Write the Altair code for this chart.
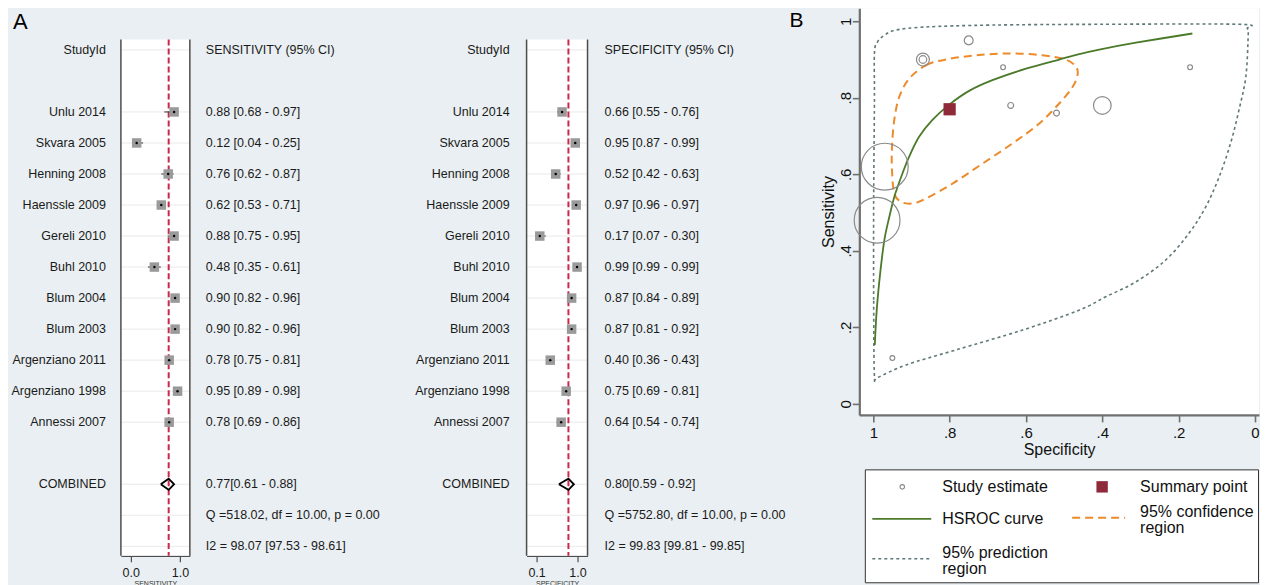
import altair as alt
import pandas as pd

# ---------------- data ----------------
studies = ["Unlu 2014", "Skvara 2005", "Henning 2008", "Haenssle 2009", "Gereli 2010",
           "Buhl 2010", "Blum 2004", "Blum 2003", "Argenziano 2011", "Argenziano 1998",
           "Annessi 2007"]
sens = [0.88, 0.12, 0.76, 0.62, 0.88, 0.48, 0.90, 0.90, 0.78, 0.95, 0.78]
sens_lo = [0.68, 0.04, 0.62, 0.53, 0.75, 0.35, 0.82, 0.82, 0.75, 0.89, 0.69]
sens_hi = [0.97, 0.25, 0.87, 0.71, 0.95, 0.61, 0.96, 0.96, 0.81, 0.98, 0.86]
spec = [0.66, 0.95, 0.52, 0.97, 0.17, 0.99, 0.87, 0.87, 0.40, 0.75, 0.64]
spec_lo = [0.55, 0.87, 0.42, 0.96, 0.07, 0.99, 0.84, 0.81, 0.36, 0.69, 0.54]
spec_hi = [0.76, 0.99, 0.63, 0.97, 0.30, 0.99, 0.89, 0.92, 0.43, 0.81, 0.74]
# relative study weight shown as bubble area in the SROC plot
weight = [23, 23, 35, 2200, 23, 2100, 168, 58, 314, 79, 35]

sens_pooled = [0.77, 0.61, 0.88]
spec_pooled = [0.80, 0.59, 0.92]
sens_het = ["Q =518.02, df = 10.00, p =  0.00", "I2 = 98.07 [97.53 - 98.61]"]
spec_het = ["Q =5752.80, df = 10.00, p =  0.00", "I2 = 99.83 [99.81 - 99.85]"]

hsroc_spec = [0.996, 0.991, 0.982, 0.971, 0.958, 0.945, 0.927, 0.906, 0.880, 0.845,
              0.801, 0.749, 0.688, 0.600, 0.513, 0.461, 0.408, 0.312, 0.164]
hsroc_sens = [0.154, 0.245, 0.341, 0.428, 0.489, 0.541, 0.593, 0.646, 0.698, 0.742,
              0.782, 0.818, 0.846, 0.876, 0.900, 0.914, 0.926, 0.944, 0.968]
conf_spec = [0.906, 0.862, 0.810, 0.731, 0.644, 0.557, 0.496, 0.469, 0.465, 0.478,
             0.513, 0.565, 0.635, 0.714, 0.792, 0.862, 0.897, 0.927, 0.945, 0.951,
             0.951, 0.945, 0.932]
conf_sens = [0.850, 0.885, 0.900, 0.911, 0.916, 0.911, 0.900, 0.881, 0.859, 0.828,
             0.785, 0.733, 0.681, 0.628, 0.576, 0.537, 0.524, 0.528, 0.550, 0.611,
             0.672, 0.742, 0.802]
pred_spec = [0.997, 0.999, 0.999, 0.997, 0.997, 0.989, 0.971, 0.941, 0.862, 0.688,
             0.408, 0.042, 0.020, 0.018, 0.024, 0.042, 0.064, 0.094, 0.129, 0.173,
             0.234, 0.312, 0.391, 0.461, 0.609, 0.784, 0.914, 0.989]
pred_sens = [0.071, 0.272, 0.533, 0.794, 0.916, 0.946, 0.963, 0.977, 0.985, 0.990,
             0.992, 0.992, 0.981, 0.959, 0.855, 0.768, 0.681, 0.593, 0.515, 0.446,
             0.376, 0.319, 0.280, 0.245, 0.193, 0.141, 0.102, 0.069]
summary_point = [0.80, 0.77]  # specificity, sensitivity

axis_ticks_B = [0, 0.2, 0.4, 0.6, 0.8, 1]
legend_labels = ["Study estimate", "Summary point", "HSROC curve",
                 ["95% confidence", "region"], ["95% prediction", "region"]]

# ---------------- layout constants ----------------
FONT = "Liberation Sans"
TXT = "#1a1a1a"
BG = "#E9EFF2"
H = 548
ROW_DOMAIN = [-1.343, 16.306]
BOX_TOP = 31.3
FS = 12.5

ysc = alt.Scale(domain=ROW_DOMAIN, reverse=True, nice=False, zero=False)
Yrow = alt.Y("row:Q", scale=ysc, axis=None)

study_rows = list(range(2, 13))
header_row, pooled_row, q_row, i2_row = 0, 14, 15, 16
grid_rows = [header_row] + study_rows + [pooled_row, q_row, i2_row]
one = pd.DataFrame({"a": [0]})


def fmt(e, l, h):
    return f"{e:.2f} [{l:.2f} - {h:.2f}]"


def label_col(width, xpos, extra=()):
    df = pd.DataFrame({"row": [header_row] + study_rows + [pooled_row],
                       "t": ["StudyId"] + studies + ["COMBINED"]})
    base = alt.Chart(df).mark_text(align="right", baseline="middle", fontSize=FS,
                                   color=TXT).encode(x=alt.value(xpos), y=Yrow, text="t:N")
    return alt.layer(base, *extra).properties(width=width, height=H)


def value_col(width, xpos, est, lo, hi, pooled, header, het, extra=()):
    texts = ([header] + [fmt(*v) for v in zip(est, lo, hi)]
             + [f"{pooled[0]:.2f}[{pooled[1]:.2f} - {pooled[2]:.2f}]"] + het)
    rows = [header_row] + study_rows + [pooled_row, q_row, i2_row]
    df = pd.DataFrame({"row": rows, "t": texts})
    base = alt.Chart(df).mark_text(align="left", baseline="middle", fontSize=FS,
                                   color=TXT).encode(x=alt.value(xpos), y=Yrow, text="t:N")
    return alt.layer(base, *extra).properties(width=width, height=H)


def forest(est, lo, hi, pooled, domain, ticks, title, width):
    xsc = alt.Scale(domain=domain, nice=False, zero=False)
    ax = alt.Axis(values=ticks, format=".1f", title=title, grid=False,
                  domainColor="#4d4d4d", domainWidth=1.5, tickColor="#4d4d4d",
                  tickWidth=1.2, tickSize=6, labelFontSize=FS, labelColor=TXT,
                  labelPadding=5, labelFlush=False, titleFontSize=7,
                  titleFontWeight="normal", titleColor="#333", titlePadding=0)

    def X(f):
        return alt.X(f, scale=xsc, axis=ax)

    df = pd.DataFrame({"row": study_rows, "est": est, "lo": lo, "hi": hi})
    pdf = pd.DataFrame({"est": [pooled[0]]})
    h = 0.18
    ddf = pd.DataFrame({"k": [0, 1, 2, 3, 4],
                        "dx": [pooled[1], pooled[0], pooled[2], pooled[0], pooled[1]],
                        "dy": [pooled_row, pooled_row - h, pooled_row, pooled_row + h, pooled_row]})
    gdf = pd.DataFrame({"row": grid_rows})
    box = alt.Chart(one).mark_rect(color="white").encode(
        x=alt.value(0), x2=alt.value(width), y=alt.value(BOX_TOP), y2=alt.value(H))
    grid = alt.Chart(gdf).mark_rule(color="#e9e9e9", strokeWidth=1).encode(y=Yrow)
    ref = alt.Chart(pdf).mark_rule(color="#c8294f", strokeWidth=2, strokeDash=[6, 3]).encode(
        x=X("est:Q"), y=alt.value(BOX_TOP), y2=alt.value(H))
    ci = alt.Chart(df).mark_rule(color="#333", strokeWidth=1).encode(
        x=X("lo:Q"), x2="hi:Q", y=Yrow)
    sq = alt.Chart(df).mark_square(color="#9a9a9a", size=90, opacity=1).encode(
        x=X("est:Q"), y=Yrow)
    dot = alt.Chart(df).mark_circle(color="black", size=6, opacity=1).encode(
        x=X("est:Q"), y=Yrow)
    dia = alt.Chart(ddf).mark_line(color="black", strokeWidth=1.8).encode(
        x=X("dx:Q"), y=alt.Y("dy:Q", scale=ysc, axis=None), order="k:Q")
    side_l = alt.Chart(one).mark_rule(color="#4d4d4d", strokeWidth=1.5).encode(
        x=alt.value(0), y=alt.value(BOX_TOP), y2=alt.value(H))
    side_r = alt.Chart(one).mark_rule(color="#4d4d4d", strokeWidth=1.5).encode(
        x=alt.value(width), y=alt.value(BOX_TOP), y2=alt.value(H))
    return alt.layer(box, grid, ref, ci, sq, dot, dia, side_l, side_r).properties(
        width=width, height=H)


# ---------------- panel A ----------------
letter_A = alt.Chart(one).mark_text(text="A", fontSize=22, align="left", baseline="middle",
                                    color="black").encode(x=alt.value(5), y=alt.value(14))
letter_B = alt.Chart(one).mark_text(text="B", fontSize=21, align="left", baseline="middle",
                                    color="black").encode(x=alt.value(202), y=alt.value(13))

c1 = label_col(113, 98, extra=(letter_A,))
c2 = forest(sens, sens_lo, sens_hi, sens_pooled, [-0.2, 1.2], [0, 1], "SENSITIVITY", 69)
c3 = value_col(210, 16, sens, sens_lo, sens_hi, sens_pooled, "SENSITIVITY (95% CI)", sens_het)
c4 = label_col(127, 110)
c5 = forest(spec, spec_lo, spec_hi, spec_pooled, [-0.12, 1.22], [0.1, 1.0], "SPECIFICITY", 61)
c6 = value_col(272, 17, spec, spec_lo, spec_hi, spec_pooled, "SPECIFICITY (95% CI)", spec_het,
               extra=(letter_B,))

# ---------------- panel B ----------------
BW = 400
xB = alt.Scale(domain=[-0.0105, 1.0366], reverse=True, nice=False, zero=False)
yB = alt.Scale(domain=[-0.0287, 1.034], nice=False, zero=False)
lab = "datum.value == 0 ? '0' : datum.value == 1 ? '1' : '.' + format(round(datum.value*10), 'd')"
AX_COL = "#707070"
axXB = alt.Axis(values=axis_ticks_B, labelExpr=lab, title="Specificity", grid=False,
                domainColor=AX_COL, domainWidth=2.2, tickColor=AX_COL, tickWidth=1.6,
                tickSize=7, labelFontSize=15, labelColor="#111", labelPadding=4,
                labelFlush=False, labelOverlap=False, titleFontSize=16,
                titleFontWeight="normal", titleColor="#111", titlePadding=1)
axYB = alt.Axis(values=axis_ticks_B, labelExpr=lab, title="Sensitivity", grid=False,
                domainColor=AX_COL, domainWidth=2.2, tickColor=AX_COL, tickWidth=1.6,
                tickSize=7, labelFontSize=15, labelColor="#111", labelPadding=-1,
                labelAngle=-90, labelAlign="center", labelBaseline="bottom",
                labelFlush=False, labelOverlap=False, titleFontSize=16,
                titleFontWeight="normal", titleColor="#111", titlePadding=2)


def XB(f):
    return alt.X(f, scale=xB, axis=axXB)


def YB(f):
    return alt.Y(f, scale=yB, axis=axYB)


pred_df = pd.DataFrame({"k": range(len(pred_spec)), "sp": pred_spec, "se": pred_sens})
conf_df = pd.DataFrame({"k": range(len(conf_spec)), "sp": conf_spec, "se": conf_sens})
hs_df = pd.DataFrame({"k": range(len(hsroc_spec)), "sp": hsroc_spec, "se": hsroc_sens})
st_df = pd.DataFrame({"sp": spec, "se": sens, "w": weight, "study": studies})
sp_df = pd.DataFrame({"sp": [summary_point[0]], "se": [summary_point[1]]})

PRED_COL = "#5f7878"
CONF_COL = "#ec8a2c"
HS_COL = "#4b7a2a"
SUM_COL = "#8e2a39"
EST_COL = "#8a8a8a"

pred = alt.Chart(pred_df).mark_line(color=PRED_COL, strokeWidth=1.6, strokeDash=[3, 3],
                                    interpolate="cardinal-closed").encode(
    x=XB("sp:Q"), y=YB("se:Q"), order="k:Q")
conf = alt.Chart(conf_df).mark_line(color=CONF_COL, strokeWidth=2, strokeDash=[8, 5],
                                    interpolate="cardinal-closed").encode(
    x=XB("sp:Q"), y=YB("se:Q"), order="k:Q")
hs = alt.Chart(hs_df).mark_line(color=HS_COL, strokeWidth=1.8, interpolate="cardinal").encode(
    x=XB("sp:Q"), y=YB("se:Q"), order="k:Q")
pts = alt.Chart(st_df).mark_point(shape="circle", filled=False, color=EST_COL,
                                  strokeWidth=1.2, opacity=1).encode(
    x=XB("sp:Q"), y=YB("se:Q"), size=alt.Size("w:Q", scale=None, legend=None))
summ = alt.Chart(sp_df).mark_square(color=SUM_COL, size=150, opacity=1).encode(
    x=XB("sp:Q"), y=YB("se:Q"))

sroc = alt.layer(pred, conf, hs, pts, summ).properties(
    width=BW, height=407, view=alt.ViewBackground(fill="white", strokeWidth=0))

# legend
LH = 113
lbox = alt.Chart(one).mark_rect(fill="white", stroke="#333", strokeWidth=1).encode(
    x=alt.value(6), x2=alt.value(BW - 0.5), y=alt.value(0), y2=alt.value(LH))
l_est = alt.Chart(one).mark_point(shape="circle", filled=False, color=EST_COL, size=20,
                                  strokeWidth=1.1, opacity=1).encode(
    x=alt.value(43), y=alt.value(17))
l_sum = alt.Chart(one).mark_square(color=SUM_COL, size=130, opacity=1).encode(
    x=alt.value(243), y=alt.value(17))
l_hs = alt.Chart(one).mark_rule(color=HS_COL, strokeWidth=1.8).encode(
    x=alt.value(13), x2=alt.value(72), y=alt.value(49))
l_conf = alt.Chart(one).mark_rule(color=CONF_COL, strokeWidth=2, strokeDash=[8, 5]).encode(
    x=alt.value(213), x2=alt.value(266), y=alt.value(48))
l_pred = alt.Chart(one).mark_rule(color=PRED_COL, strokeWidth=1.6, strokeDash=[3, 3]).encode(
    x=alt.value(13), x2=alt.value(72), y=alt.value(89))


def ltext(t, x, y):
    return alt.Chart(one).mark_text(align="left", baseline="middle", fontSize=16,
                                    lineHeight=16, color="#111").encode(
        x=alt.value(x), y=alt.value(y), text=alt.value(t))


legend = alt.layer(
    lbox, l_est, l_sum, l_hs, l_conf, l_pred,
    ltext(legend_labels[0], 83, 17), ltext(legend_labels[1], 281, 17),
    ltext(legend_labels[2], 83, 49), ltext(legend_labels[3], 281, 42),
    ltext(legend_labels[4], 83, 83),
).properties(width=BW, height=LH)

c7 = alt.vconcat(sroc, legend, spacing=55, bounds="flush")

chart = alt.hconcat(c1, c2, c3, c4, c5, c6, c7, spacing=0, bounds="flush").properties(
    padding=0, background=BG
).configure(font=FONT).configure_view(strokeWidth=0)

chart.save("out.html", embed_options={"renderer": "svg", "actions": False})
